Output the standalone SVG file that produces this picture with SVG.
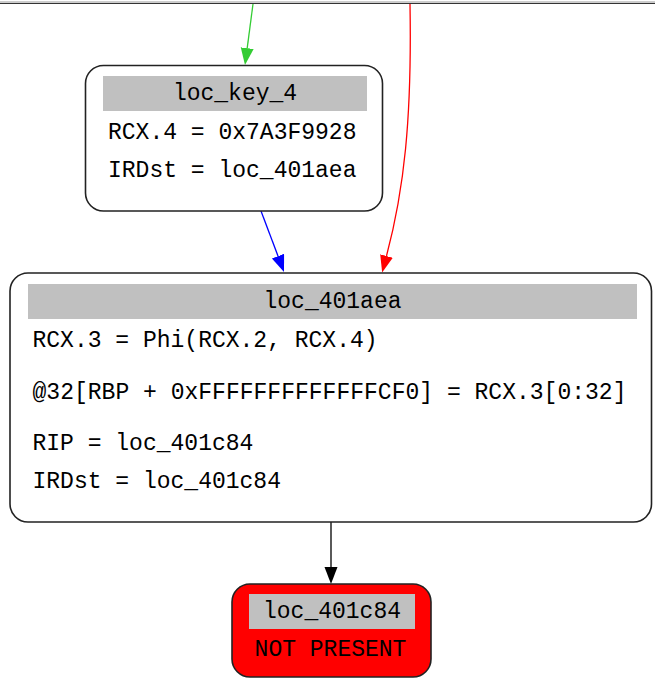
<svg xmlns="http://www.w3.org/2000/svg" width="655" height="682" viewBox="0 0 655 682">
  <style>
    .box { fill: #ffffff; stroke: #222222; stroke-width: 1.6; }
    .missing { fill: #ff0000; stroke: #222222; stroke-width: 1.6; }
    .hdr { fill: #c0c0c0; stroke: none; }
    text { font-family: "Liberation Mono", "DejaVu Sans Mono", monospace; font-size: 23px; fill: #000000; }
    .mid { text-anchor: middle; }
    .edge { fill: none; stroke-width: 1.3; }
  </style>
  <defs>
    <marker id="head-green" markerUnits="userSpaceOnUse" markerWidth="18" markerHeight="14" refX="0" refY="6.5" orient="auto">
      <path d="M0,0 L17,6.5 L0,13 z" fill="#33cc33"/>
    </marker>
    <marker id="head-red" markerUnits="userSpaceOnUse" markerWidth="18" markerHeight="14" refX="0" refY="6.5" orient="auto">
      <path d="M0,0 L17,6.5 L0,13 z" fill="#ff0000"/>
    </marker>
    <marker id="head-blue" markerUnits="userSpaceOnUse" markerWidth="18" markerHeight="14" refX="0" refY="6.5" orient="auto">
      <path d="M0,0 L17,6.5 L0,13 z" fill="#0000ff"/>
    </marker>
    <marker id="head-black" markerUnits="userSpaceOnUse" markerWidth="18" markerHeight="14" refX="0" refY="6.5" orient="auto">
      <path d="M0,0 L17,6.5 L0,13 z" fill="#000000"/>
    </marker>
  </defs>

  <rect width="655" height="682" fill="#ffffff"/>
  <!-- frame edge along the top -->
  <line x1="0" y1="2" x2="655" y2="2" stroke="#9a9a9a" stroke-width="1"/>
  <line x1="0" y1="3.5" x2="655" y2="3.5" stroke="#333333" stroke-width="1.2"/>

  <g id="edges">
    <path class="edge" stroke="#33cc33" d="M253,4 L247.2,48.2" marker-end="url(#head-green)"/>
    <path class="edge" stroke="#ff0000" d="M410,4 C412,120 404,190 386.5,256" marker-end="url(#head-red)"/>
    <path class="edge" stroke="#0000ff" d="M261,211 L278,256.1" marker-end="url(#head-blue)"/>
    <path class="edge" stroke="#000000" d="M331,522 L331,567" marker-end="url(#head-black)"/>
  </g>

  <g id="loc_key_4">
    <rect class="box" x="85.5" y="65.5" width="297" height="145.5" rx="18"/>
    <rect class="hdr" x="103" y="76" width="264" height="35"/>
    <text class="mid" x="235" y="100">loc_key_4</text>
    <text x="108" y="139">RCX.4 = 0x7A3F9928</text>
    <text x="108" y="177">IRDst = loc_401aea</text>
  </g>

  <g id="loc_401aea">
    <rect class="box" x="10" y="273" width="641.5" height="249" rx="18"/>
    <rect class="hdr" x="28" y="284" width="609" height="35"/>
    <text class="mid" x="332.5" y="308">loc_401aea</text>
    <text x="32.5" y="347">RCX.3 = Phi(RCX.2, RCX.4)</text>
    <text x="32.5" y="399" textLength="594">@32[RBP + 0xFFFFFFFFFFFFFCF0] = RCX.3[0:32]</text>
    <text x="32.5" y="450">RIP = loc_401c84</text>
    <text x="32.5" y="488">IRDst = loc_401c84</text>
  </g>

  <g id="loc_401c84">
    <rect class="missing" x="232" y="584" width="199" height="93" rx="18"/>
    <rect class="hdr" x="249" y="594" width="166" height="35"/>
    <text class="mid" x="332" y="618">loc_401c84</text>
    <text class="mid" x="330.5" y="656">NOT PRESENT</text>
  </g>
</svg>
